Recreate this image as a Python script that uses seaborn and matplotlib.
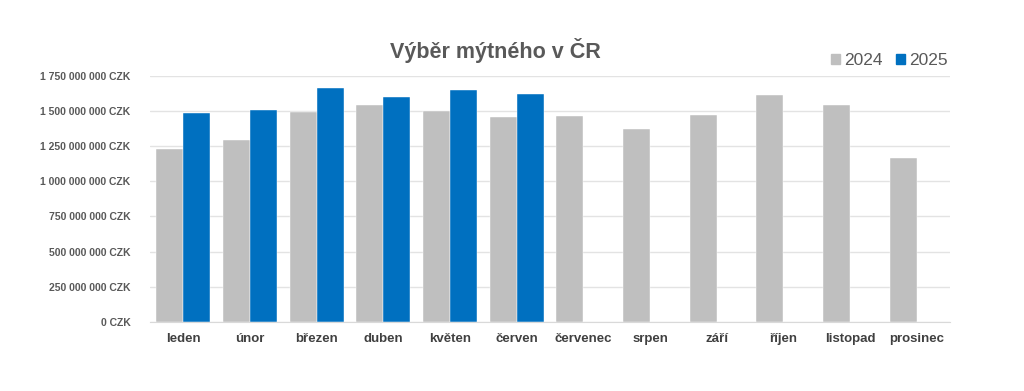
import matplotlib
matplotlib.use("Agg")
import matplotlib.pyplot as plt
import matplotlib.ticker as mticker
import seaborn as sns
import pandas as pd
import numpy as np

months = ['leden', 'únor', 'březen', 'duben', 'květen', 'červen', 'červenec',
          'srpen', 'září', 'říjen', 'listopad', 'prosinec']
vals_2024 = [1230e6, 1292e6, 1494e6, 1541e6, 1501e6, 1460e6, 1467e6,
             1375e6, 1472e6, 1615e6, 1546e6, 1163e6]
vals_2025 = [1484e6, 1508e6, 1665e6, 1598e6, 1646e6, 1622e6]
years = ['2024', '2025']
colors = {'2024': '#BFBFBF', '2025': '#0070C0'}

df = pd.DataFrame({
    'mesic': months * 2,
    'rok': ['2024'] * 12 + ['2025'] * 12,
    'vyber': vals_2024 + vals_2025 + [np.nan] * 6,
}).dropna()

sns.set_style('white')
plt.rcParams['font.family'] = ['Liberation Sans', 'DejaVu Sans']

fig = plt.figure(figsize=(10.24, 3.91), dpi=100)
ax = fig.add_axes([0.1465, 0.177, 0.78125, 0.629])

sns.barplot(data=df, x='mesic', y='vyber', hue='rok', order=months,
            hue_order=years, palette=colors, saturation=1, width=0.81, gap=0,
            edgecolor='white', linewidth=0.3, ax=ax, legend=False)

ax.set_ylim(0, 1750e6)
ax.set_xlim(-0.5, 11.5)
ax.yaxis.set_major_locator(mticker.MultipleLocator(250e6))
ax.yaxis.set_major_formatter(mticker.FuncFormatter(
    lambda v, p: f"{int(round(v)):,}".replace(',', ' ') + ' CZK'))
ax.grid(axis='y', color='#E3E3E3', linewidth=1)
ax.set_axisbelow(True)
for s in ['top', 'right', 'left']:
    ax.spines[s].set_visible(False)
ax.spines['bottom'].set_color('#D9D9D9')
ax.tick_params(axis='y', length=0, labelsize=7.5, labelcolor='#595959', pad=14)
ax.tick_params(axis='x', length=0, labelsize=9.5, labelcolor='#404040', pad=8)
for lab in ax.get_yticklabels() + ax.get_xticklabels():
    lab.set_fontweight('bold')
ax.set_xlabel('')
ax.set_ylabel('')

fig.text(0.484, 0.87, 'Výběr mýtného v ČR', ha='center', va='center',
         fontsize=15.5, fontweight='bold', color='#595959')

handles = [plt.Rectangle((0, 0), 1, 1, color=colors[y]) for y in years]
fig.legend(handles, years, loc='center right', bbox_to_anchor=(0.941, 0.845),
           ncol=2, frameon=False, fontsize=12.5, handlelength=0.5,
           handleheight=0.5, handletextpad=0.25, columnspacing=0.8,
           labelcolor='#595959')

fig.savefig('out.png', dpi=100, facecolor='white')
